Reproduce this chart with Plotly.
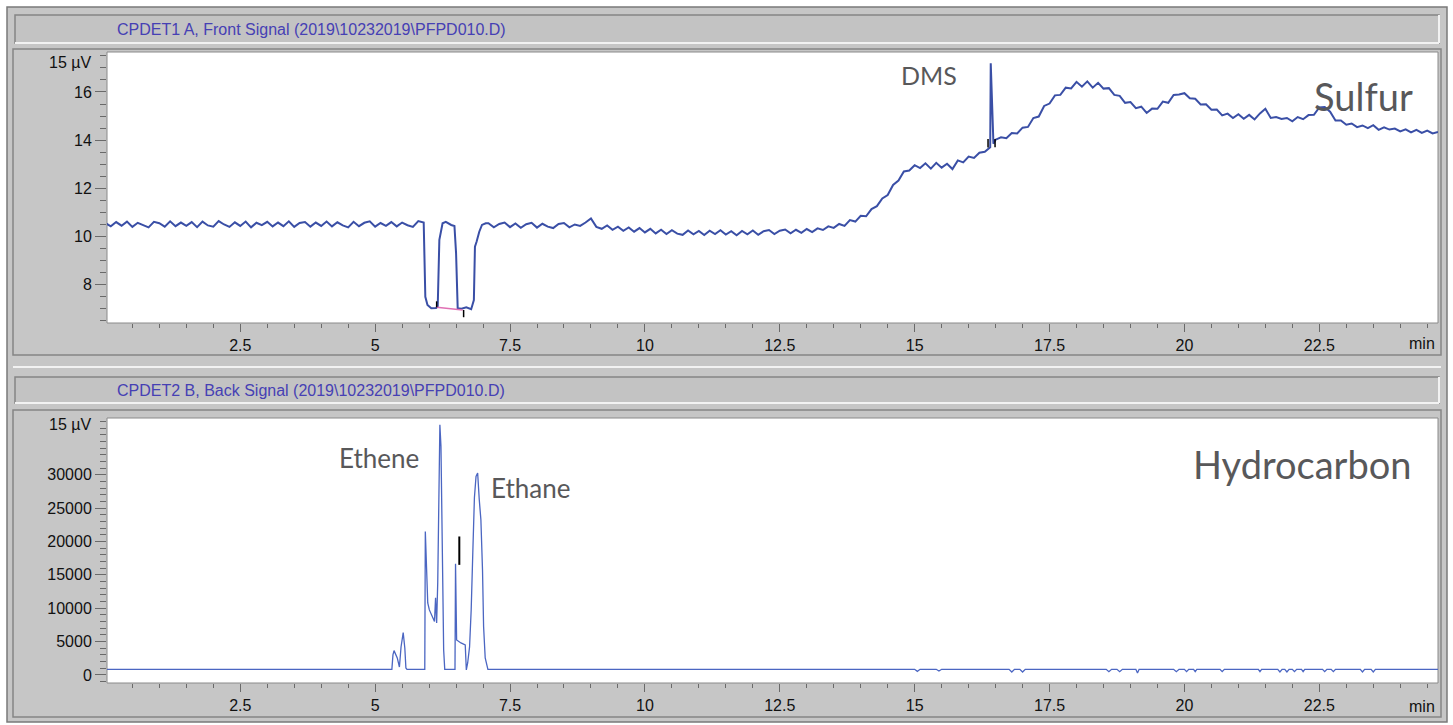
import plotly.graph_objects as go

W, H = 1453, 725

# ---------------- data ----------------
# Front signal (sulfur channel), µV
front_a_start, front_step = 0.0, 0.1
front_a_vals = [10.56, 10.42, 10.60, 10.45, 10.62, 10.40, 10.57, 10.47, 10.38, 10.61,
                10.55, 10.41, 10.63, 10.43, 10.58, 10.44, 10.60, 10.39, 10.62, 10.46,
                10.41, 10.64, 10.50, 10.40, 10.59, 10.44, 10.62, 10.38, 10.57, 10.47,
                10.61, 10.42, 10.58, 10.43, 10.63, 10.40, 10.56, 10.60, 10.41, 10.58,
                10.44, 10.62, 10.42, 10.59, 10.46, 10.38, 10.61, 10.43, 10.57, 10.63,
                10.41, 10.56, 10.44, 10.60, 10.42, 10.58, 10.47, 10.40, 10.64, 10.58]
front_b_t = [5.93, 5.97, 6.04, 6.13, 6.16, 6.19, 6.25, 6.31, 6.41, 6.47, 6.50,
             6.53, 6.60, 6.69, 6.78, 6.83, 6.85, 6.88, 6.93, 6.98, 7.05]
front_b_vals = [7.50, 7.16, 7.02, 7.03, 7.10, 9.86, 10.55, 10.61, 10.48, 10.44, 9.31,
                7.02, 7.00, 7.06, 6.98, 7.36, 9.58, 9.78, 10.20, 10.48, 10.55]
front_c_start = 7.1
front_c_vals = [10.55, 10.38, 10.52, 10.58, 10.39, 10.54, 10.36, 10.51, 10.57, 10.37,
                10.53, 10.41, 10.35, 10.52, 10.56, 10.38, 10.50, 10.44, 10.58, 10.75,
                10.40, 10.32, 10.46, 10.28, 10.41, 10.24, 10.38, 10.20, 10.35, 10.17,
                10.32, 10.13, 10.28, 10.10, 10.26, 10.12, 10.07, 10.25, 10.09, 10.23,
                10.06, 10.24, 10.10, 10.26, 10.08, 10.22, 10.05, 10.23, 10.09, 10.25,
                10.07, 10.22, 10.27, 10.10, 10.24, 10.29, 10.13, 10.28, 10.15, 10.31,
                10.18, 10.34, 10.27, 10.42, 10.36, 10.52, 10.44, 10.68, 10.62, 10.86,
                10.84, 11.14, 11.26, 11.58, 11.72, 12.14, 12.32, 12.70, 12.74, 12.96,
                12.84, 13.04, 12.82, 13.06, 12.86, 13.02, 12.80, 13.16, 13.08, 13.32,
                13.26, 13.48, 13.52]
front_d_t = [16.36, 16.40, 16.41, 16.425, 16.44, 16.46, 16.50]
front_d_vals = [13.62, 13.70, 17.19, 16.20, 15.75, 13.85, 14.02]
front_e_start = 16.6
front_e_vals = [14.12, 14.08, 14.30, 14.28, 14.52, 14.55, 14.92, 14.98, 15.42, 15.52,
                15.86, 15.88, 16.18, 16.15, 16.42, 16.22, 16.44, 16.18, 16.38, 16.14,
                16.16, 15.88, 15.84, 15.55, 15.58, 15.33, 15.39, 15.13, 15.31, 15.30,
                15.60, 15.55, 15.88, 15.90, 15.95, 15.74, 15.72, 15.48, 15.49, 15.26,
                15.27, 15.03, 15.10, 14.92, 15.08, 14.89, 15.05, 14.86, 15.11, 15.30,
                14.92, 14.96, 14.88, 14.92, 14.78, 14.96, 14.87, 15.04, 15.05, 15.36,
                15.38, 15.18, 14.82, 14.82, 14.64, 14.69, 14.54, 14.61, 14.50, 14.62,
                14.43, 14.53, 14.44, 14.48, 14.36, 14.45, 14.32, 14.43, 14.30, 14.40,
                14.28, 14.34]

# integration marks on the front signal
pink_base_t = [6.14, 6.62]
pink_base_v = [7.06, 6.95]
tick_marks_front = [(6.14, 7.06, 7.31), (6.64, 6.95, 6.65), (16.36, 13.70, 14.05), (16.49, 13.71, 14.05)]

# Back signal (hydrocarbon channel)
hc_t = [0.0, 5.31, 5.33, 5.35, 5.41, 5.45, 5.48, 5.52, 5.55, 5.57, 5.59,
        5.92, 5.93, 5.955, 5.975, 6.005, 6.07, 6.10, 6.12, 6.14, 6.16, 6.18, 6.20,
        6.22, 6.24, 6.27, 6.29, 6.48, 6.49, 6.51, 6.59, 6.67, 6.69, 6.715, 6.75,
        6.78, 6.81, 6.84, 6.87, 6.90, 6.93, 6.96, 6.99, 7.01, 7.04, 7.09,
        15.00, 15.05, 15.10, 15.40, 15.45, 15.50, 16.75, 16.80, 16.85, 16.95, 17.00,
        17.05, 18.55, 18.60, 18.65, 18.75, 18.80, 18.85, 19.10, 19.13, 19.16, 19.80,
        19.85, 19.90, 20.00, 20.04, 20.08, 20.17, 20.20, 20.23, 20.66, 20.70, 20.74,
        21.37, 21.40, 21.43, 21.73, 21.77, 21.81, 21.86, 21.90, 21.94, 22.00, 22.04,
        22.08, 22.17, 22.20, 22.23, 22.56, 22.60, 22.64, 22.72, 22.76, 22.80, 23.26,
        23.30, 23.34, 23.46, 23.50, 23.54, 24.70]
hc_v = [850, 850, 3000, 3650, 2550, 1200, 4200, 6350, 4050, 1050, 850,
        850, 21500, 16250, 10800, 9750, 8550, 8000, 11550, 7800, 13800, 27300, 37500,
        34250, 18750, 3750, 850, 850, 16650, 5250, 4800, 4500, 750, 1800, 4200,
        9750, 18300, 26550, 29750, 30250, 26250, 23250, 15750, 7250, 2550, 850,
        850, 550, 850, 850, 600, 850, 850, 450, 850, 850, 450,
        850, 850, 500, 850, 850, 500, 850, 850, 300, 850, 850,
        500, 850, 850, 500, 850, 850, 500, 850, 850, 500, 850,
        850, 500, 850, 850, 450, 850, 850, 450, 850, 850, 500,
        850, 850, 500, 850, 850, 500, 850, 850, 500, 850, 850,
        450, 850, 850, 450, 850, 850]
hc_marker = (6.56, 16500, 20750)

hc_ticks = [0, 5000, 10000, 15000, 20000, 25000, 30000]

titles = ["CPDET1 A, Front Signal (2019\\10232019\\PFPD010.D)",
          "CPDET2 B, Back Signal (2019\\10232019\\PFPD010.D)"]
labels = ["DMS", "Sulfur", "Ethene", "Ethane", "Hydrocarbon"]

# ---------------- assemble series ----------------
front_t = ([round(front_a_start + front_step * i, 3) for i in range(len(front_a_vals))] + front_b_t +
           [round(front_c_start + front_step * i, 3) for i in range(len(front_c_vals))] + front_d_t +
           [round(front_e_start + front_step * i, 3) for i in range(len(front_e_vals))])
front_v = front_a_vals + front_b_vals + front_c_vals + front_d_vals + front_e_vals


def px(x):
    return x / W


def py(y):
    return 1 - y / H


fig = go.Figure()
LINE_TOP = "#3a4fa6"
LINE_BOT = "#4b66c2"

fig.add_trace(go.Scatter(x=front_t, y=front_v, mode="lines", line=dict(color=LINE_TOP, width=2),
                         xaxis="x", yaxis="y", hoverinfo="skip", showlegend=False))
fig.add_trace(go.Scatter(x=pink_base_t, y=pink_base_v, mode="lines", line=dict(color="#e070b4", width=1.5),
                         xaxis="x", yaxis="y", hoverinfo="skip", showlegend=False))
for (tt, a, b) in tick_marks_front:
    fig.add_trace(go.Scatter(x=[tt, tt], y=[a, b], mode="lines", line=dict(color="black", width=1.5),
                             xaxis="x", yaxis="y", hoverinfo="skip", showlegend=False))

fig.add_trace(go.Scatter(x=hc_t, y=hc_v, mode="lines", line=dict(color=LINE_BOT, width=1.3),
                         xaxis="x2", yaxis="y2", hoverinfo="skip", showlegend=False))
fig.add_trace(go.Scatter(x=[hc_marker[0], hc_marker[0]], y=[hc_marker[1], hc_marker[2]], mode="lines",
                         line=dict(color="black", width=2), xaxis="x2", yaxis="y2",
                         hoverinfo="skip", showlegend=False))

GRAY = "#c6c6c6"
DARK = "#858585"
shapes = []


def rect(x0, y0, x1, y1, fill, line=None, lw=1):
    shapes.append(dict(type="rect", xref="paper", yref="paper", x0=px(x0), x1=px(x1), y0=py(y1), y1=py(y0),
                       fillcolor=fill, line=dict(color=line or fill, width=lw if line else 0), layer="below"))


def hline(x0, x1, y, color, lw=1):
    shapes.append(dict(type="line", xref="paper", yref="paper", x0=px(x0), x1=px(x1), y0=py(y), y1=py(y),
                       line=dict(color=color, width=lw), layer="below"))


def vline(x, y0, y1, color, lw=1):
    shapes.append(dict(type="line", xref="paper", yref="paper", x0=px(x), x1=px(x), y0=py(y0), y1=py(y1),
                       line=dict(color=color, width=lw), layer="below"))


# outer body
rect(7, 7, 1447, 722, GRAY, "#7a7a7a", 1.5)
# title boxes
for (y0, y1) in [(15, 43), (377, 403)]:
    rect(15, y0, 1439, y1, "#c3c3c3", DARK, 1.5)
    hline(15, 1439, y1, "#f2f2f2", 2)
    vline(1439, y0, y1, "#f2f2f2", 2)
# panel frames
for (y0, y1) in [(49, 355), (410, 717)]:
    rect(13, y0, 1441, y1, GRAY, DARK, 1.5)
hline(13, 1441, 367, "#f2f2f2", 2)
# plot areas
rect(107, 52, 1438, 323, "white", "#8a8a8a", 1)
rect(107, 418, 1438, 683, "white", "#8a8a8a", 1)

TICKFONT = dict(family="Liberation Sans, Arial, sans-serif", size=16, color="#111111")
TICKC = "#6a6a6a"

xaxis_common = dict(range=[0.03, 24.7], tickmode="linear", tick0=0, dtick=2.5, ticks="outside", ticklen=8,
                    tickwidth=1, tickcolor=TICKC, tickfont=TICKFONT, showgrid=False, zeroline=False,
                    showline=False,
                    minor=dict(tick0=0, dtick=0.5, ticks="outside", ticklen=4, tickcolor=TICKC, showgrid=False))
yaxis_common = dict(ticks="outside", ticklen=11, tickwidth=1, tickcolor=TICKC, tickfont=TICKFONT,
                    showgrid=False, zeroline=False, showline=False)

annotations = []
for i, t in enumerate(titles):
    annotations.append(dict(text=t, xref="paper", yref="paper", x=px(115), y=py([29, 390][i]),
                            xanchor="left", yanchor="middle", showarrow=False,
                            font=dict(family="Liberation Sans, Arial, sans-serif", size=16, color="#4640b4")))
for yy in [62, 425]:
    annotations.append(dict(text="15 µV", xref="paper", yref="paper", x=px(93), y=py(yy), xanchor="right",
                            yanchor="middle", showarrow=False, font=TICKFONT))
for yy in [343, 706]:
    annotations.append(dict(text="min", xref="paper", yref="paper", x=px(1437), y=py(yy), xanchor="right",
                            yanchor="middle", showarrow=False, font=TICKFONT))

LAB = dict(family="Lato, Noto Sans, sans-serif", color="#58585a")
lab_pos = {"DMS": (929, 75, 25), "Sulfur": (1363, 96, 38), "Ethene": (379, 458, 26),
           "Ethane": (530, 488, 26), "Hydrocarbon": (1302, 464, 38)}
for name in labels:
    x, y, s = lab_pos[name]
    annotations.append(dict(text=name, xref="paper", yref="paper", x=px(x), y=py(y), xanchor="center",
                            yanchor="middle", showarrow=False, font=dict(size=s, **LAB)))

fig.update_layout(
    width=W, height=H, margin=dict(l=0, r=0, t=0, b=0),
    paper_bgcolor="white", plot_bgcolor="white",
    xaxis=dict(domain=[px(107), px(1438)], anchor="y", **xaxis_common),
    yaxis=dict(domain=[py(323), py(52)], anchor="x", range=[6.41, 17.66], tickmode="linear", tick0=0, dtick=2,
               minor=dict(tick0=0, dtick=0.5, ticks="outside", ticklen=6, tickcolor=TICKC, showgrid=False),
               **yaxis_common),
    xaxis2=dict(domain=[px(107), px(1438)], anchor="y2", **xaxis_common),
    yaxis2=dict(domain=[py(683), py(418)], anchor="x2", range=[-1200, 38500], tickmode="array",
                tickvals=hc_ticks, ticktext=[str(v) for v in hc_ticks],
                minor=dict(tickmode="linear", tick0=0, dtick=1000, ticks="outside", ticklen=6, tickcolor=TICKC,
                           showgrid=False),
                **yaxis_common),
    shapes=shapes, annotations=annotations, showlegend=False,
)

fig.write_html("out.html", config={"displayModeBar": False},
               post_script="document.body.style.margin='0px';document.body.style.overflow='hidden';")
